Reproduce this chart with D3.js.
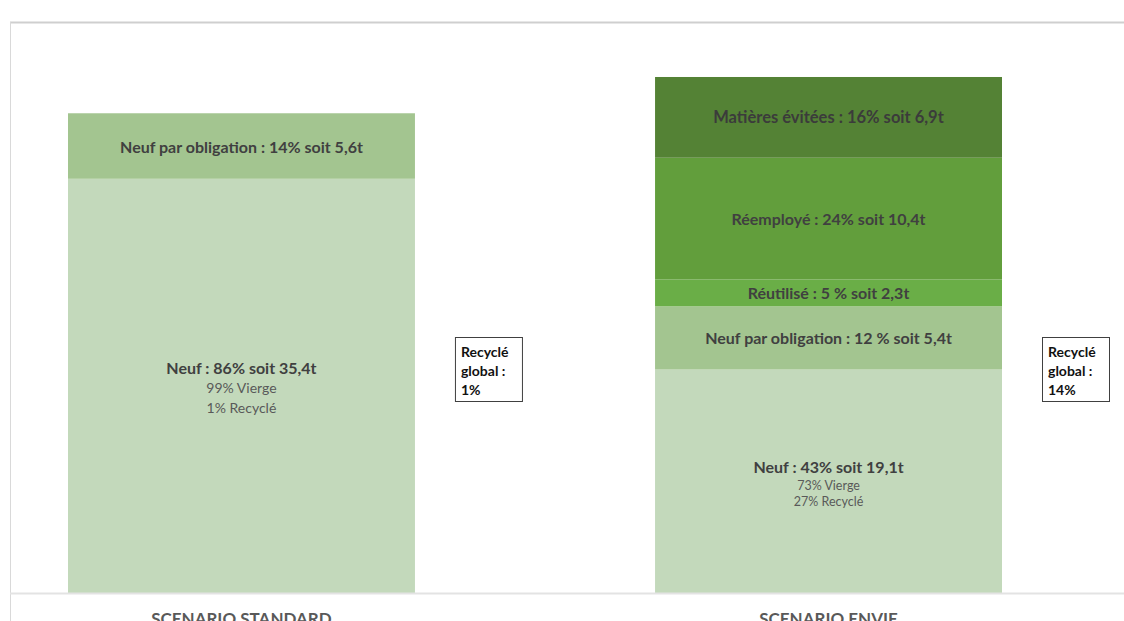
<!DOCTYPE html>
<html>
<head>
<meta charset="utf-8">
<script src="https://cdn.jsdelivr.net/npm/d3@7"></script>
<style>
  body { margin: 0; padding: 0; background: white; overflow: hidden; }
  svg { display: block; }
</style>
</head>
<body>
<svg width="1124" height="621"></svg>
<script>
// --- data ---
const scenarios = ["SCENARIO STANDARD", "SCENARIO ENVIE"];
const parts = ["Neuf", "Neuf par obligation", "Réutilisé", "Réemployé", "Matières évitées"];
// tonnes per part, same order as parts
const standardValues = [35.4, 5.6, 0, 0, 0];
const envieValues = [19.1, 5.4, 2.3, 10.4, 6.9];
const standardLabels = ["Neuf : 86% soit 35,4t", "Neuf par obligation : 14% soit 5,6t", "", "", ""];
const envieLabels = ["Neuf : 43% soit 19,1t", "Neuf par obligation : 12 % soit 5,4t",
  "Réutilisé : 5 % soit 2,3t", "Réemployé : 24% soit 10,4t", "Matières évitées : 16% soit 6,9t"];
const neufDetail = [["99% Vierge", "1% Recyclé"], ["73% Vierge", "27% Recyclé"]];
const recycleGlobal = ["1%", "14%"];
const partColors = ["#c3d9bb", "#a3c590", "#6aae47", "#629e3c", "#548235"];

const svg = d3.select("svg");
const baseY = 593;

const rows = scenarios.map((s, i) => {
  const vals = i == 0 ? standardValues : envieValues;
  const r = { scenario: s };
  parts.forEach((p, j) => r[p] = vals[j]);
  return r;
});
const labelsByScenario = [standardLabels, envieLabels];

const x = d3.scaleBand()
  .domain(scenarios)
  .range([68, 1002])
  .paddingInner(0.409)
  .paddingOuter(0);

const y = d3.scaleLinear()
  .domain([0, 48.8])
  .range([baseY, 22]);

const stacked = d3.stack().keys(parts)(rows);

// frame
svg.append("line").attr("x1", 10).attr("x2", 1124).attr("y1", 22.5).attr("y2", 22.5)
  .attr("stroke", "#cfcfcf").attr("stroke-width", 2);
svg.append("line").attr("x1", 10.5).attr("x2", 10.5).attr("y1", 22).attr("y2", 621)
  .attr("stroke", "#d9d9d9").attr("stroke-width", 1);

// bars
const layers = svg.append("g").selectAll("g")
  .data(stacked).join("g")
  .attr("fill", (d, i) => partColors[i]);

layers.selectAll("rect")
  .data(d => d.map(v => ({ v, key: d.key })))
  .join("rect")
  .attr("x", d => x(d.v.data.scenario))
  .attr("width", x.bandwidth())
  .attr("y", d => y(d.v[1]))
  .attr("height", d => y(d.v[0]) - y(d.v[1]));

// baseline
svg.append("line").attr("x1", 10).attr("x2", 1124).attr("y1", baseY + 0.5).attr("y2", baseY + 0.5)
  .attr("stroke", "#e3e3e3").attr("stroke-width", 2);

const font = "Lato, 'Open Sans', sans-serif";

// segment labels
stacked.forEach((layer, j) => {
  layer.forEach((v, i) => {
    const txt = labelsByScenario[i][j];
    if (!txt || v[1] - v[0] <= 0) return;
    const cx = x(v.data.scenario) + x.bandwidth() / 2;
    let cy = (y(v[0]) + y(v[1])) / 2;
    if (j == 0) cy = cy - (i == 0 ? 18 : 15);
    svg.append("text")
      .attr("x", cx).attr("y", cy)
      .attr("text-anchor", "middle")
      .attr("dominant-baseline", "central")
      .attr("font-family", font)
      .attr("font-weight", "bold")
      .attr("font-size", j == 4 ? "16.5px" : "16px")
      .attr("fill", j == 4 ? "#3b3b3b" : "#404040")
      .text(txt);
    if (j == 0) {
      const fs = i == 0 ? 14 : 12.5;
      const first = i == 0 ? 20 : 19;
      const gap = i == 0 ? 20 : 16.5;
      neufDetail[i].forEach((line, k) => {
        svg.append("text")
          .attr("x", cx).attr("y", cy + first + gap * k)
          .attr("text-anchor", "middle")
          .attr("dominant-baseline", "central")
          .attr("font-family", font)
          .attr("font-size", fs + "px")
          .attr("fill", "#595959")
          .text(line);
      });
    }
  });
});

// "Recyclé global" boxes, placed right of each bar
scenarios.forEach((s, i) => {
  const bx = x(s) + x.bandwidth() + 40;
  const g = svg.append("g").attr("transform", `translate(${bx},337)`);
  g.append("rect").attr("x", 0.5).attr("y", 0.5).attr("width", 67).attr("height", 64)
    .attr("fill", "white").attr("stroke", "#404040").attr("stroke-width", 1);
  ["Recyclé", "global :", recycleGlobal[i]].forEach((line, k) => {
    g.append("text")
      .attr("x", 6).attr("y", 14 + k * 19)
      .attr("dominant-baseline", "central")
      .attr("font-family", font)
      .attr("font-weight", "bold")
      .attr("font-size", "14px")
      .attr("fill", "#111")
      .text(line);
  });
});

// x axis labels (cut by the bottom edge, as in the original)
svg.append("g").selectAll("text")
  .data(scenarios).join("text")
  .attr("x", d => x(d) + x.bandwidth() / 2)
  .attr("y", 625)
  .attr("text-anchor", "middle")
  .attr("font-family", font)
  .attr("font-weight", "bold")
  .attr("font-size", "17px")
  .attr("fill", "#595959")
  .text(d => d);
</script>
</body>
</html>
